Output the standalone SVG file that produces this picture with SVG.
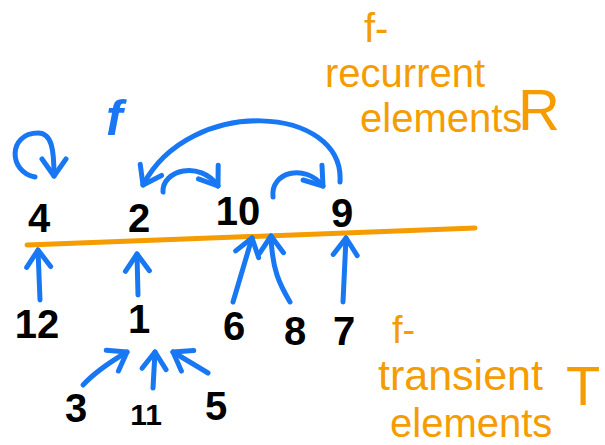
<svg xmlns="http://www.w3.org/2000/svg" width="605" height="445" viewBox="0 0 605 445">
<style>
.num{font-family:"Liberation Sans",Arial,sans-serif;font-weight:bold;font-size:40px;fill:#000;text-anchor:middle}
.lbl{font-family:"Liberation Sans",Arial,sans-serif;fill:#f59c00}
.edge{fill:none;stroke:#1877f2;stroke-width:5;stroke-linecap:round;stroke-linejoin:round}
</style>
<defs>
<marker id="ah" markerUnits="userSpaceOnUse" markerWidth="40" markerHeight="40" viewBox="-25 -20 40 40" refX="0" refY="0" orient="auto" overflow="visible">
<path d="M-17,-12 L0,0 L-17,12" fill="none" stroke="#1877f2" stroke-width="5" stroke-linecap="round" stroke-linejoin="round"/>
</marker>
</defs>
<rect width="605" height="445" fill="#fff"/>
<line x1="27" y1="245" x2="475" y2="228" stroke="#f59c00" stroke-width="5" stroke-linecap="round"/>
<g id="connectors">
<path class="edge" marker-end="url(#ah)" d="M35,177 C8,172 8,133 38,133 C52,133 54,150 54,176"/>
<path class="edge" marker-end="url(#ah)" d="M340,182 C345,105 190,95 143,185"/>
<path class="edge" marker-end="url(#ah)" d="M163,192 C162,170 200,160 218,186"/>
<path class="edge" marker-end="url(#ah)" d="M273,197 C270,172 305,163 323,186"/>
<path class="edge" marker-end="url(#ah)" d="M40,300 L38,250"/>
<path class="edge" marker-end="url(#ah)" d="M138,295 L137,254"/>
<path class="edge" marker-end="url(#ah)" d="M233,302 L252,238"/>
<path class="edge" marker-end="url(#ah)" d="M290,302 C280,285 272,270 271,236"/>
<path class="edge" marker-end="url(#ah)" d="M343,302 L346,238"/>
<path class="edge" marker-end="url(#ah)" d="M83,385 C95,372 110,362 127,352"/>
<path class="edge" marker-end="url(#ah)" d="M153,388 L155,352"/>
<path class="edge" marker-end="url(#ah)" d="M208,373 C195,365 183,358 173,352"/>
</g>
<g id="n4"><text class="num" x="39" y="232">4</text></g>
<g id="n2"><text class="num" x="139" y="232">2</text></g>
<g id="n10"><text class="num" x="238" y="225">10</text></g>
<g id="n9"><text class="num" x="342" y="227">9</text></g>
<g id="n12"><text class="num" x="37" y="338">12</text></g>
<g id="n1"><text class="num" x="139" y="333">1</text></g>
<g id="n6"><text class="num" x="234" y="340">6</text></g>
<g id="n8"><text class="num" x="295" y="345">8</text></g>
<g id="n7"><text class="num" x="344" y="345">7</text></g>
<g id="n3"><text class="num" x="76" y="422">3</text></g>
<g id="n11"><text class="num" x="146" y="425" style="font-size:30px">11</text></g>
<g id="n5"><text class="num" x="216" y="420">5</text></g>
<g id="labels">
<text x="106" y="135" style="font-family:'Liberation Sans',Arial,sans-serif;font-size:50px;font-style:italic;font-weight:bold;fill:#1877f2">f</text>
<text class="lbl" x="364" y="42" font-size="40">f-</text>
<text class="lbl" x="325" y="87" font-size="40">recurrent</text>
<text class="lbl" x="360" y="132" font-size="40">elements</text>
<text class="lbl" x="518" y="130" font-size="58">R</text>
<text class="lbl" x="392" y="343" font-size="38">f-</text>
<text class="lbl" x="378" y="390" font-size="43">transient</text>
<text class="lbl" x="566" y="405" font-size="56">T</text>
<text class="lbl" x="390" y="437" font-size="40">elements</text>
</g>
</svg>
